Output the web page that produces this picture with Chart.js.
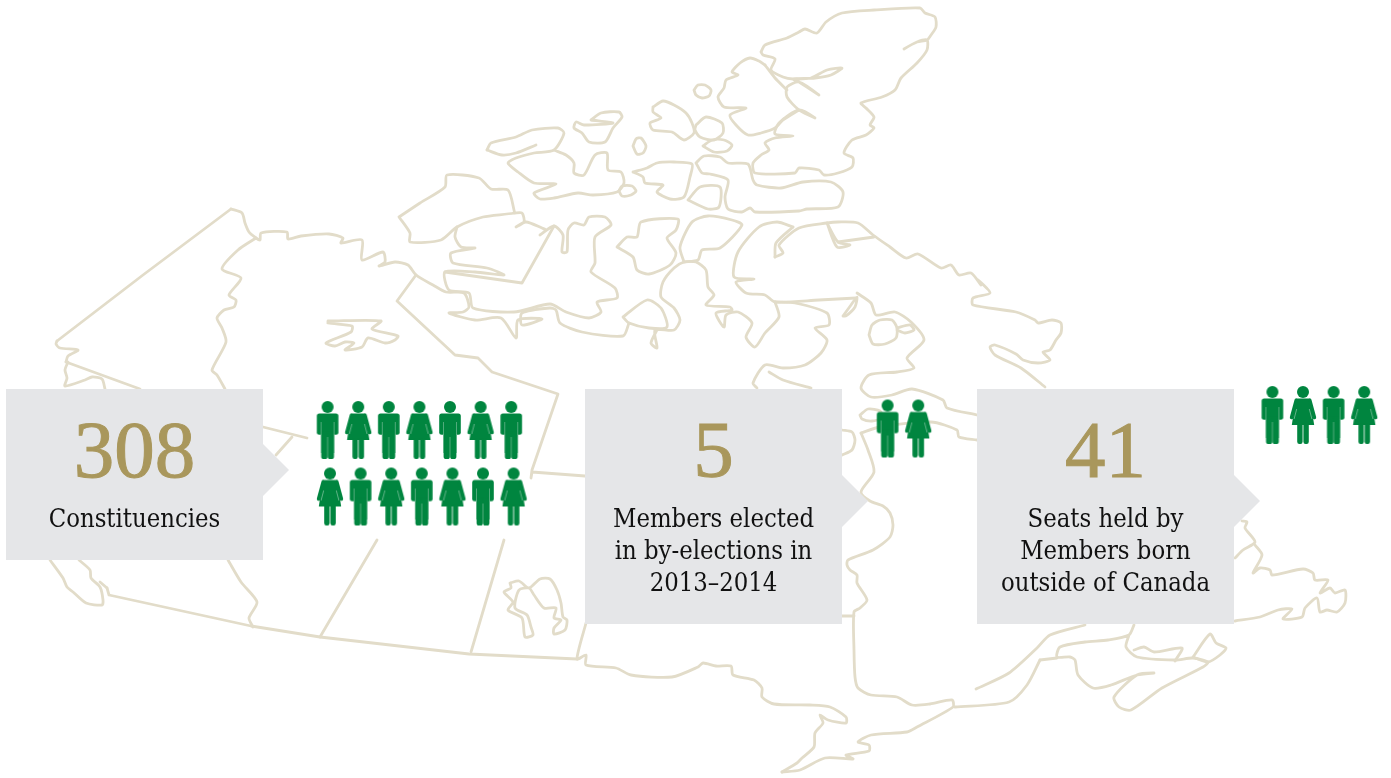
<!DOCTYPE html>
<html>
<head>
<meta charset="utf-8">
<title>Parliament in numbers</title>
<script src="https://cdn.jsdelivr.net/npm/chart.js@4"></script>
<style>
  html, body { margin: 0; padding: 0; background: #fff; }
  canvas { display: block; }
</style>
</head>
<body>
<canvas id="chart" width="1391" height="778"></canvas>
<script>
// panel contents
const panelNumbers = ['308', '5', '41'];
const panelLabels = [
    ['Constituencies'],
    ['Members elected', 'in by-elections in', '2013–2014'],
    ['Seats held by', 'Members born', 'outside of Canada']
];

// M = man, W = woman; one string per row of figures
const iconRows = ['MWMWMWM', 'WMWMWMW', 'MW', 'MWMW'];
const iconRowStart = [327.6, 330, 887.6, 1272.4];
const iconRowY = [430, 496.5, 428.5, 415];

// map outline, traced in picture units
const ellesmere = [[761,52],[765,45],[787,38],[799,32],[805,29],[817,33],[826,22],[842,13],[874,10],[920,8],[925,13],[935,17],[936,27],[931,35],[927,40],[917,42],[904,49],[917,42],[927,40],[927,50],[917,63],[901,78],[895,90],[882,97],[861,103],[866,108],[874,117],[870,125],[874,128],[866,135],[852,140],[844,153],[853,158],[852,167],[838,173],[824,175],[819,170],[799,168],[795,173],[755,173],[753,163],[761,155],[769,150],[765,143],[775,138],[793,136],[775,134],[779,123],[799,110],[815,118],[799,110],[787,97],[787,87],[799,82],[819,95],[799,82],[793,79],[815,78],[831,75],[842,68],[827,70],[811,78],[793,79],[783,77],[771,70],[775,59],[763,55],[761,52]];
const devon = [[765,65],[759,61],[750,58],[740,63],[732,72],[738,75],[726,80],[724,88],[718,97],[724,107],[746,108],[730,115],[736,125],[748,135],[761,133],[775,128],[783,120],[799,110]];
const devonInner = [[765,65],[775,78],[787,90]];
const smallOval = [[694,90],[698,85],[705,85],[711,90],[709,96],[702,98],[696,95],[694,90]];
const islandA = [[653,107],[663,101],[674,105],[686,113],[692,123],[694,133],[684,140],[672,132],[653,130],[650,123],[661,118],[653,112],[653,107]];
const islandB = [[696,125],[706,117],[722,123],[723,133],[714,140],[700,137],[695,130],[696,125]];
const islandC = [[703,146],[712,140],[724,140],[732,145],[727,151],[714,152],[703,146]];
const islandD = [[591,120],[601,113],[619,112],[622,117],[613,128],[605,142],[589,142],[582,133],[574,128],[576,122],[584,125],[613,123],[591,120]];
const ovalE = [[633,146],[636,139],[641,138],[646,146],[643,153],[637,154],[633,146]];
const islandF = [[487,150],[491,143],[516,137],[532,130],[558,128],[564,133],[554,150],[534,153],[516,158],[508,163],[518,172],[534,183],[556,184],[534,193],[540,199],[554,198],[578,193],[593,195],[617,192],[624,183],[621,172],[608,170],[607,153],[595,155],[584,175],[574,173],[574,163],[566,155],[554,150]];
const islandFLow = [[487,150],[502,155],[516,153],[536,145]];
const ovalG = [[619,191],[622,186],[632,186],[636,191],[631,195],[622,196],[619,191]];
const islandH = [[633,172],[647,168],[657,163],[674,162],[692,164],[690,177],[684,197],[670,199],[657,192],[663,185],[645,183],[643,177],[633,172]];
const islandI = [[688,200],[700,187],[720,187],[719,207],[708,209],[688,200]];
const islandJ = [[696,163],[704,156],[720,157],[728,163],[748,164],[753,180],[757,185],[781,188],[803,182],[831,182],[843,192],[838,207],[807,209],[799,211],[755,212],[750,208],[742,212],[728,209],[725,197],[728,180],[710,174],[702,173],[696,163]];
const banks = [[399,217],[420,203],[445,187],[447,175],[479,178],[491,189],[508,190],[514,210],[514,213],[483,217],[457,227],[441,240],[410,242],[410,233],[399,217]];
const victoria = [[514,213],[522,213],[524,222],[516,227],[526,222],[542,228],[546,230],[540,235],[554,226],[563,235],[562,252],[567,252],[568,230],[574,223],[584,225],[589,217],[605,217],[611,225],[595,237],[595,263],[591,272],[615,288],[617,298],[597,302],[601,312],[589,318],[566,312],[550,304],[514,312],[473,308],[469,293],[449,290],[445,272],[475,272],[504,275],[487,268],[453,263],[451,253],[475,248],[461,247],[455,237],[457,227]];
const victoriaDiagonal = [[554,226],[522,283],[445,272]];
const arcticWest = [[57,341],[143,275],[231,209]];
const mainlandWest = [[231,209],[242,213],[245,223],[249,232],[256,238],[260,240],[261,233],[287,232],[288,239],[301,236],[329,234],[343,238],[341,243],[362,240],[362,260],[383,252],[385,262],[379,266],[395,262],[408,265],[416,275],[433,285],[446,292],[464,293],[469,307],[463,312],[449,313],[475,320],[501,318],[516,338],[518,320],[542,319],[522,325],[522,313],[550,308],[556,310],[560,323],[582,332],[623,336],[629,323]];
const yukonCoast = [[57,341],[56,344],[60,348],[78,350],[68,356],[66,362]];
const yukonBorder = [[66,362],[140,389]];
const alaskaTip = [[68,362],[65,370],[67,378],[65,386],[85,380],[92,377],[102,379],[105,389]];
const yukonNwt = [[256,238],[238,250],[222,269],[241,278],[229,295],[236,300],[234,307],[224,310],[217,318],[222,328],[226,342],[212,370],[217,375],[225,389]];
const nwtBorder = [[416,275],[397,301],[455,355],[478,358],[492,372],[558,394],[532,470],[531,478],[532,472],[585,476]];
const slaveLake = [[328,321],[381,321],[372,329],[398,336],[395,340],[385,343],[368,338],[362,347],[345,350],[354,343],[345,342],[335,346],[326,343],[351,332],[352,326],[328,323],[328,321]];
const albertaBranch = [[263,427],[307,438]];
const albertaBranchB = [[292,437],[276,455]];
const blobK = [[623,317],[647,300],[661,308],[667,327],[649,328],[629,323],[623,317]];
const melville = [[657,330],[651,343],[657,348],[655,330],[674,330],[680,320],[674,308],[661,297],[663,282],[674,268],[684,262],[696,262],[706,270],[708,287],[714,295],[706,305],[730,307],[732,310],[716,313],[724,327],[726,315],[738,312],[752,323],[746,337],[755,347],[765,333],[779,317],[775,302]];
const islandL = [[684,262],[680,247],[692,222],[708,216],[732,220],[742,225],[720,248],[702,250],[698,260],[684,262]];
const islandM = [[617,247],[627,237],[637,237],[641,222],[678,219],[676,230],[667,238],[676,253],[670,265],[649,274],[637,270],[633,257],[617,247]];
const foxeBasin = [[793,227],[777,222],[759,227],[738,252],[734,277],[754,279],[736,282],[746,293],[765,295],[775,302],[819,300],[856,298]];
const baffinCoast = [[775,257],[783,253],[779,245],[799,228],[827,223],[838,222],[858,223],[873,235],[890,247],[906,258],[918,254],[941,268],[951,265],[959,275],[971,273],[981,285],[978,280],[990,293],[973,298],[973,305],[1016,312],[1035,320],[1038,323],[1052,320],[1061,323],[1061,333],[1056,340],[1050,350],[1043,352],[1050,360],[1038,363],[1023,360],[1016,354],[995,345],[990,347],[995,355],[1021,368],[1045,387]];
const baffinHook = [[775,257],[776,243],[793,227]];
const baffinInlet = [[827,223],[838,242],[850,245],[837,247],[827,223]];
const baffinInletB = [[838,242],[874,237]];
const keewatin = [[775,302],[795,303],[827,313],[829,325],[815,328],[827,340],[821,353],[805,365],[783,368],[765,365],[753,383],[757,388]];
const hudsonNorth = [[769,372],[783,380],[811,388]];
const hudsonSouth = [[857,293],[871,303],[876,315],[895,312],[911,322],[924,340],[907,358],[914,368],[897,372],[869,375],[861,388],[871,397],[892,395],[912,389],[943,400],[947,408],[977,415]];
const spikeN = [[843,316],[851,305],[857,297],[855,307],[846,316],[843,316]];
const belcher = [[869,335],[872,325],[880,320],[892,320],[897,328],[896,338],[885,344],[873,344],[869,335]];
const belcherSmall = [[897,328],[910,325],[914,330],[905,333],[897,330]];
const jamesTop = [[861,433],[880,427],[931,422],[957,430],[959,437],[977,440]];
const ovalN = [[860,415],[868,409],[880,411],[882,418],[872,421],[862,419],[860,415]];
const ovalO = [[842,430],[852,432],[855,440],[852,450],[842,455]];
const jamesBay = [[861,433],[868,450],[874,472],[861,492],[870,501],[883,506],[890,513],[893,525],[890,537],[873,550],[848,560],[847,565],[850,570],[857,575],[857,583],[867,600],[860,608],[854,612],[854,650],[855,677],[858,688],[871,695],[897,697],[912,705],[930,704],[952,700],[953,707],[917,727],[907,732],[871,735],[858,742],[869,745],[869,751],[846,755],[853,759],[825,758],[800,770],[782,772]];
const ontarioTop = [[842,616],[854,616]];
const ontarioSouth = [[586,623],[577,659],[586,655],[586,665],[616,668],[631,675],[672,677],[698,667],[703,663],[716,666],[731,666],[733,675],[754,680],[762,688],[762,697],[774,704],[810,705],[830,707],[846,717],[846,723],[828,720],[820,715],[823,723],[815,733],[814,747],[802,758],[797,763],[782,772]];
const southBorder = [[107,588],[109,595],[251,626],[320,637],[469,654],[577,659]];
const vancouver = [[50,560],[63,578],[67,587],[73,592],[86,603],[102,605],[103,600],[100,587],[91,578],[90,570],[79,560]];
const vancouverLink = [[100,582],[107,588]];
const bcBorder = [[228,560],[241,582],[257,602],[249,618],[253,627]];
const saskWest = [[377,540],[320,637]];
const saskEast = [[504,540],[471,652]];
const winnipeg = [[510,583],[519,581],[529,588],[540,579],[550,579],[557,590],[561,603],[563,617],[567,620],[565,630],[554,634],[554,628],[561,620],[554,618],[556,608],[544,608],[534,595],[529,588],[519,590],[515,608],[527,615],[531,627],[533,635],[525,637],[522,618],[508,610],[513,602],[504,592],[511,588],[510,583]];
const quebecEast = [[1242,521],[1247,522],[1245,528],[1255,542],[1243,550],[1235,558]];
const newfoundland = [[1255,545],[1262,555],[1253,573],[1260,568],[1270,570],[1272,575],[1303,569],[1313,573],[1315,580],[1328,580],[1320,593],[1330,588],[1335,593],[1345,590],[1345,603],[1337,612],[1327,610],[1320,612],[1317,598],[1305,608],[1302,617],[1283,619],[1292,609],[1278,610],[1260,617],[1235,621]];
const newBrunswick = [[1134,625],[1129,635],[1108,640],[1085,642],[1060,647],[1057,657],[1070,657],[1075,660],[1078,675],[1093,688],[1111,685],[1137,675],[1154,673],[1137,675],[1114,697],[1119,707],[1131,710],[1162,688],[1203,667],[1208,662],[1193,658],[1175,660],[1137,657],[1126,647],[1129,635]];
const pei = [[1134,650],[1144,647],[1154,652],[1182,648],[1175,661]];
const capeBreton = [[1193,657],[1210,634],[1216,643],[1226,648],[1220,655],[1208,662],[1193,657]];
const stLawrence = [[976,689],[1009,673],[1037,648],[1050,635],[1085,625]];
const stLawrenceB = [[1040,660],[1027,685],[1009,702],[955,707]];
const stLawrenceC = [[1040,660],[1057,658]];

const straightLines = [arcticWest, yukonBorder, albertaBranch, albertaBranchB, saskWest, saskEast, ontarioTop, victoriaDiagonal, nwtBorder, southBorder];
const coastLines = [ellesmere, devon, devonInner, smallOval, islandA, islandB, islandC, islandD, ovalE, islandF, islandFLow, ovalG, islandH, islandI, islandJ, banks, victoria, mainlandWest, yukonCoast, alaskaTip, yukonNwt, slaveLake, blobK, melville, islandL, islandM, foxeBasin, baffinCoast, baffinHook, baffinInlet, baffinInletB, keewatin, hudsonNorth, hudsonSouth, spikeN, belcher, belcherSmall, jamesTop, ovalN, ovalO, jamesBay, ontarioSouth, vancouver, vancouverLink, bcBorder, winnipeg, quebecEast, newfoundland, newBrunswick, pei, capeBreton, stLawrence, stLawrenceB, stLawrenceC];

const GREEN = '#00853f';
const GOLD = '#a9975c';
const MAP_LINE = '#e2dcc9';
const PANEL_GREY = '#e5e6e8';

const panelLeft = [6, 585, 977];
const panelBottom = [560, 624, 624];
const panelTipY = [470, 501, 501];
const numberBaseline = [477, 477, 477];
const labelFirstBaseline = [526.5, 527, 527];

function panelShape(i) {
    const l = panelLeft[i], r = l + 257, t = 389, b = panelBottom[i], tip = panelTipY[i];
    return [[l, t], [r, t], [r, tip - 26], [r + 26, tip], [r, tip + 26], [r, b], [l, b]];
}

// pictogram figures, used as point styles
function figureCanvas(kind) {
    const c = document.createElement('canvas');
    c.width = 32;
    c.height = 60;
    const g = c.getContext('2d');
    g.translate(16, 1);
    g.fillStyle = GREEN;
    g.strokeStyle = GREEN;
    g.lineCap = 'round';
    g.beginPath();
    g.arc(0, 6, 6, 0, Math.PI * 2);
    g.fill();
    if (kind === 'M') {
        g.beginPath();
        g.roundRect(-10.8, 12.6, 21.6, 21.2, 2.5);
        g.fill();
        g.fillRect(-6.4, 20, 12.8, 32);
        g.beginPath();
        g.roundRect(-6.4, 30, 6.4, 28, 2.6);
        g.roundRect(0, 30, 6.4, 28, 2.6);
        g.fill();
        g.fillStyle = 'rgba(255,255,255,0.4)';
        g.fillRect(-7, 21, 0.8, 13);
        g.fillRect(6.2, 21, 0.8, 13);
        g.fillRect(-0.4, 36, 0.8, 22);
    } else {
        g.beginPath();
        g.moveTo(-7, 12.6);
        g.lineTo(7, 12.6);
        g.lineTo(11.2, 39);
        g.lineTo(-11.2, 39);
        g.closePath();
        g.fill();
        g.lineWidth = 3.6;
        g.beginPath();
        g.moveTo(-6.8, 14.4);
        g.lineTo(-11.4, 31.5);
        g.moveTo(6.8, 14.4);
        g.lineTo(11.4, 31.5);
        g.stroke();
        g.beginPath();
        g.roundRect(-5.8, 37, 5.4, 21, 2.2);
        g.roundRect(0.4, 37, 5.4, 21, 2.2);
        g.fill();
        g.strokeStyle = 'rgba(255,255,255,0.55)';
        g.lineWidth = 0.7;
        g.lineCap = 'butt';
        g.beginPath();
        g.moveTo(-6.3, 23);
        g.lineTo(-8.9, 33);
        g.moveTo(6.3, 23);
        g.lineTo(8.9, 33);
        g.stroke();
    }
    return c;
}

const ICON_STEP = 30.6;
const menPoints = [];
const womenPoints = [];
iconRows.forEach((row, r) => {
    row.split('').forEach((kind, i) => {
        (kind === 'M' ? menPoints : womenPoints).push([iconRowStart[r] + i * ICON_STEP, iconRowY[r]]);
    });
});

const mapDatasets = (lines, tension) => lines.map(line => ({
    data: line,
    showLine: true,
    borderColor: MAP_LINE,
    borderWidth: 2.8,
    borderJoinStyle: 'round',
    borderCapStyle: 'round',
    pointRadius: 0,
    tension: tension,
    order: 3
}));

const panelDatasets = panelNumbers.map((n, i) => ({
    data: panelShape(i),
    showLine: true,
    fill: 'shape',
    backgroundColor: PANEL_GREY,
    borderWidth: 0,
    pointRadius: 0,
    order: 2
}));

const iconDataset = (points, kind) => ({
    data: points,
    showLine: false,
    pointStyle: figureCanvas(kind),
    pointRadius: 15,
    order: 1
});

// numbers and captions on the panels
const panelText = {
    id: 'panelText',
    afterDatasetsDraw(chart) {
        const ctx = chart.ctx;
        const x = chart.scales.x, y = chart.scales.y;
        ctx.save();
        ctx.textAlign = 'center';
        ctx.textBaseline = 'alphabetic';
        panelNumbers.forEach((n, i) => {
            const cx = x.getPixelForValue(panelLeft[i] + 128.5);
            ctx.fillStyle = GOLD;
            ctx.strokeStyle = GOLD;
            ctx.lineWidth = 1;
            ctx.font = '81px "Liberation Serif"';
            ctx.fillText(n, cx, y.getPixelForValue(numberBaseline[i]));
            ctx.strokeText(n, cx, y.getPixelForValue(numberBaseline[i]));
            ctx.fillStyle = '#111111';
            ctx.font = '25.4px "DejaVu Serif Condensed", "DejaVu Serif"';
            panelLabels[i].forEach((line, k) => {
                ctx.fillText(line, cx, y.getPixelForValue(labelFirstBaseline[i] + k * 32));
            });
        });
        ctx.restore();
    }
};

new Chart(document.getElementById('chart').getContext('2d'), {
    type: 'scatter',
    data: {
        datasets: [
            ...mapDatasets(coastLines, 0.25),
            ...mapDatasets(straightLines, 0),
            ...panelDatasets,
            iconDataset(menPoints, 'M'),
            iconDataset(womenPoints, 'W')
        ]
    },
    options: {
        responsive: false,
        animation: false,
        layout: { padding: 0, autoPadding: false },
        scales: {
            x: { type: 'linear', min: 0, max: 1391, display: false },
            y: { type: 'linear', min: 0, max: 778, reverse: true, display: false }
        },
        plugins: {
            legend: { display: false },
            tooltip: { enabled: false }
        }
    },
    plugins: [panelText]
});
</script>
</body>
</html>
